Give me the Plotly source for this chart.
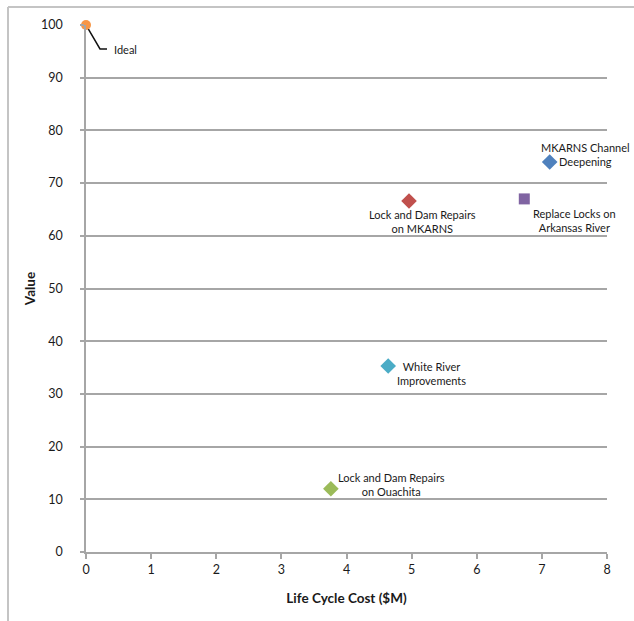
import plotly.graph_objects as go

# Project alternatives: life cycle cost ($M) versus value score
projects = [
    "Ideal",
    "MKARNS Channel<br>Deepening",
    "Lock and Dam Repairs<br>on MKARNS",
    "Replace Locks on<br>Arkansas River",
    "White River<br>Improvements",
    "Lock and Dam Repairs<br>on Ouachita",
]
cost = [0.0, 7.12, 4.96, 6.73, 4.64, 3.76]
value = [100.0, 74.0, 66.6, 67.0, 35.3, 12.0]
symbols = ["circle", "diamond", "diamond", "square", "diamond", "diamond"]
colors = ["#f79646", "#4f81bd", "#c0504d", "#8064a2", "#4bacc6", "#9bbb59"]
sizes = [10, 12, 12, 11, 12, 12]
# label offsets in pixels from each marker (x right, y up)
label_dx = [39, 36, 13, 50, 43, 61]
label_dy = [-24, 8, -20, -22, -8, 4]

x_ticks = list(range(0, 9))
y_ticks = list(range(0, 101, 10))

W, H = 634, 621
L, R, T, B = 86, 27, 25, 69
FONT = "Lato, 'Open Sans', Arial, sans-serif"
GRID = "#a6a6a6"
TEXT = "#1a1a1a"

fig = go.Figure()
for i in range(len(projects)):
    fig.add_trace(go.Scatter(
        x=[cost[i]], y=[value[i]], mode="markers",
        marker=dict(symbol=symbols[i], size=sizes[i], color=colors[i],
                    line=dict(width=0)),
        showlegend=False, cliponaxis=False, hoverinfo="skip",
    ))
    fig.add_annotation(
        x=cost[i], y=value[i], xref="x", yref="y",
        text=projects[i], showarrow=False,
        xshift=label_dx[i], yshift=label_dy[i],
        align="center", font=dict(family=FONT, size=11, color=TEXT),
    )

# leader line from the ideal point to its label
fig.add_shape(
    type="path", xref="x", yref="y",
    xsizemode="pixel", ysizemode="pixel",
    xanchor=cost[0], yanchor=value[0],
    path="M 0 0 L 14 -24 L 21 -24",
    line=dict(color="#111111", width=1.5), layer="below",
)

# chart frame (left and top edges)
px = lambda p: (p - L) / (W - L - R)
py = lambda p: (H - B - p) / (H - T - B)
fig.add_shape(type="line", xref="paper", yref="paper",
              x0=px(8), x1=px(8), y0=py(7), y1=py(H),
              line=dict(color="#c4c4c4", width=2))
fig.add_shape(type="line", xref="paper", yref="paper",
              x0=px(8), x1=px(W), y0=py(7), y1=py(7),
              line=dict(color="#c4c4c4", width=2))

fig.update_xaxes(
    range=[0, 8], tickvals=x_ticks, ticktext=[str(t) for t in x_ticks],
    showgrid=False, zeroline=False,
    showline=True, linecolor=GRID, linewidth=1.5,
    ticks="outside", ticklen=5, tickcolor=GRID, tickwidth=1.5,
    tickfont=dict(family=FONT, size=12.5, color=TEXT),
    title=dict(text="<b>Life Cycle Cost ($M)</b>", standoff=18,
               font=dict(family=FONT, size=13.5, color=TEXT)),
)
fig.update_yaxes(
    range=[0, 100], tickvals=y_ticks, ticktext=[str(t) for t in y_ticks],
    showgrid=True, gridcolor=GRID, gridwidth=1.5, zeroline=False,
    showline=True, linecolor=GRID, linewidth=1.5,
    ticks="outside", ticklen=4, tickcolor=GRID, tickwidth=1.5,
    ticklabelstandoff=15,
    tickfont=dict(family=FONT, size=12.5, color=TEXT),
    title=dict(text="<b>Value</b>", standoff=2,
               font=dict(family=FONT, size=13.5, color=TEXT)),
)

fig.update_layout(
    width=W, height=H,
    margin=dict(l=L, r=R, t=T, b=B),
    paper_bgcolor="white", plot_bgcolor="white",
)

fig.write_html("out.html")
